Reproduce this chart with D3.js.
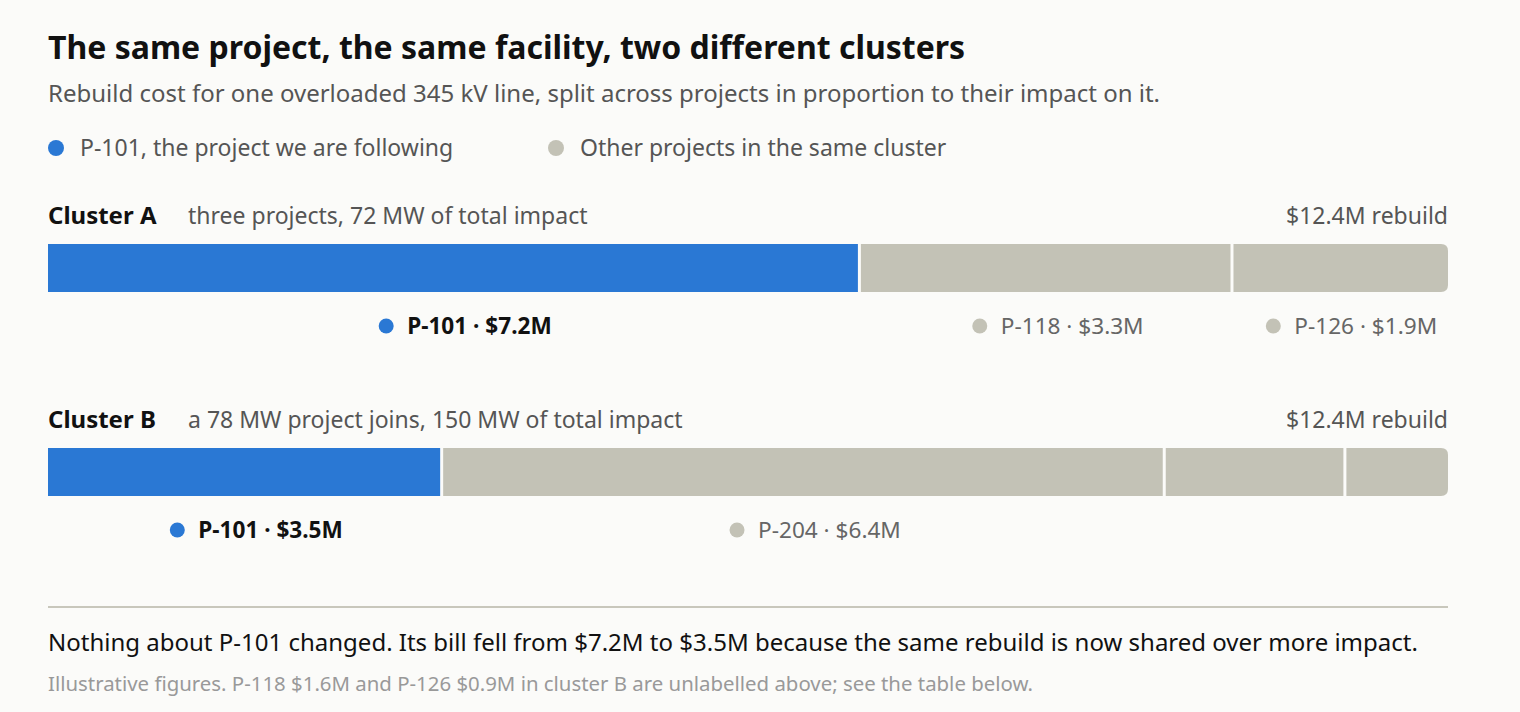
<!DOCTYPE html>
<html>
<head>
<meta charset="utf-8">
<script src="https://cdn.jsdelivr.net/npm/d3@7"></script>
<style>
  html, body { margin: 0; padding: 0; background: #fbfbf9; }
  svg { display: block; font-family: "Noto Sans", sans-serif; }
</style>
</head>
<body>
<div id="chart"></div>
<script>
// page size
var w = 1520;
var h = 712;
var left = 48, right = 1448;

// data
var clusterNames = ["Cluster A", "Cluster B"];
var clusterNotes = ["three projects, 72 MW of total impact", "a 78 MW project joins, 150 MW of total impact"];
var rebuildCost = [12.4, 12.4];
var projectsA = ["P-101", "P-118", "P-126"];
var costsA = [7.2, 3.3, 1.9];
var labelledA = [true, true, true];
var projectsB = ["P-101", "P-204", "P-118", "P-126"];
var costsB = [3.5, 6.4, 1.6, 0.9];
var labelledB = [true, true, false, false];
var focusProject = "P-101";

var blue = "#2a78d4", grey = "#c3c2b6";

var svg = d3.select("#chart")
    .append("svg")
    .attr("width", w)
    .attr("height", h);

svg.append("rect").attr("width", w).attr("height", h).attr("fill", "#fbfbf9");

// title + subtitle
svg.append("text")
    .attr("x", left).attr("y", 59)
    .attr("font-size", 32).attr("font-weight", 700).attr("fill", "#111")
    .text("The same project, the same facility, two different clusters");
svg.append("text")
    .attr("x", left).attr("y", 102)
    .attr("font-size", 24).attr("fill", "#555")
    .text("Rebuild cost for one overloaded 345 kV line, split across projects in proportion to their impact on it.");

// legend
var legend = [["P-101, the project we are following", blue, 56], ["Other projects in the same cluster", grey, 556]];
legend.forEach(function(l) {
    svg.append("circle").attr("cx", l[2]).attr("cy", 148).attr("r", 8).attr("fill", l[1]);
    svg.append("text").attr("x", l[2] + 24).attr("y", 156)
        .attr("font-size", 23).attr("fill", "#555").text(l[0]);
});

var clusters = [
    {projects: projectsA, costs: costsA, labelled: labelledA, top: 195},
    {projects: projectsB, costs: costsB, labelled: labelledB, top: 399}
];

clusters.forEach(function(c, ci) {
    var g = svg.append("g").attr("transform", "translate(0," + c.top + ")");

    g.append("text").attr("x", left).attr("y", 29)
        .attr("font-size", 24).attr("font-weight", 700).attr("fill", "#111")
        .text(clusterNames[ci]);
    g.append("text").attr("x", 188).attr("y", 29)
        .attr("font-size", 23).attr("fill", "#555")
        .text(clusterNotes[ci]);
    g.append("text").attr("x", right).attr("y", 29)
        .attr("text-anchor", "end")
        .attr("font-size", 23).attr("fill", "#555")
        .text("$" + rebuildCost[ci] + "M rebuild");

    var xScale = d3.scaleLinear()
        .domain([0, d3.sum(c.costs)])
        .range([left, right]);

    var starts = [];
    var acc = 0;
    c.costs.forEach(function(v) { starts.push(acc); acc += v; });

    var barY = 49, barH = 48, r = 7;
    // clip: square on the left, rounded on the right
    var clipId = "clip" + ci;
    g.append("clipPath").attr("id", clipId)
        .append("path")
        .attr("d", "M" + left + "," + barY +
            "H" + (right - r) + "Q" + right + "," + barY + " " + right + "," + (barY + r) +
            "V" + (barY + barH - r) + "Q" + right + "," + (barY + barH) + " " + (right - r) + "," + (barY + barH) +
            "H" + left + "Z");

    g.append("g").attr("clip-path", "url(#" + clipId + ")")
        .selectAll("rect")
        .data(c.costs)
        .enter()
        .append("rect")
        .attr("x", function(d, i) { return xScale(starts[i]); })
        .attr("y", barY)
        .attr("width", function(d, i) {
            var wd = xScale(starts[i] + d) - xScale(starts[i]);
            return i < c.costs.length - 1 ? wd - 3 : wd;
        })
        .attr("height", barH)
        .attr("fill", function(d, i) { return c.projects[i] == focusProject ? blue : grey; });

    // labels under the segments
    c.costs.forEach(function(d, i) {
        if (!c.labelled[i]) return;
        var mid = (xScale(starts[i]) + xScale(starts[i] + d)) / 2 + 25;
        var focus = c.projects[i] == focusProject;
        var t = g.append("text")
            .attr("x", mid).attr("y", 139)
            .attr("text-anchor", "middle")
            .attr("font-size", 22.6)
            .attr("font-weight", focus ? 700 : 400)
            .attr("fill", focus ? "#111" : "#666")
            .text(c.projects[i] + " \u00b7 $" + d.toFixed(1) + "M");
        var tw = t.node().getComputedTextLength();
        g.append("circle")
            .attr("cx", mid - tw / 2 - 21).attr("cy", 131).attr("r", 7.5)
            .attr("fill", focus ? blue : grey);
    });
});

// divider + notes
svg.append("line")
    .attr("x1", left).attr("x2", right)
    .attr("y1", 607).attr("y2", 607)
    .attr("stroke", "#c8c7bc").attr("stroke-width", 2);
svg.append("text")
    .attr("x", left).attr("y", 651)
    .attr("font-size", 24).attr("fill", "#111")
    .text("Nothing about P-101 changed. Its bill fell from $7.2M to $3.5M because the same rebuild is now shared over more impact.");
svg.append("text")
    .attr("x", left).attr("y", 691)
    .attr("font-size", 20.4).attr("fill", "#999")
    .text("Illustrative figures. P-118 $1.6M and P-126 $0.9M in cluster B are unlabelled above; see the table below.");
</script>
</body>
</html>
